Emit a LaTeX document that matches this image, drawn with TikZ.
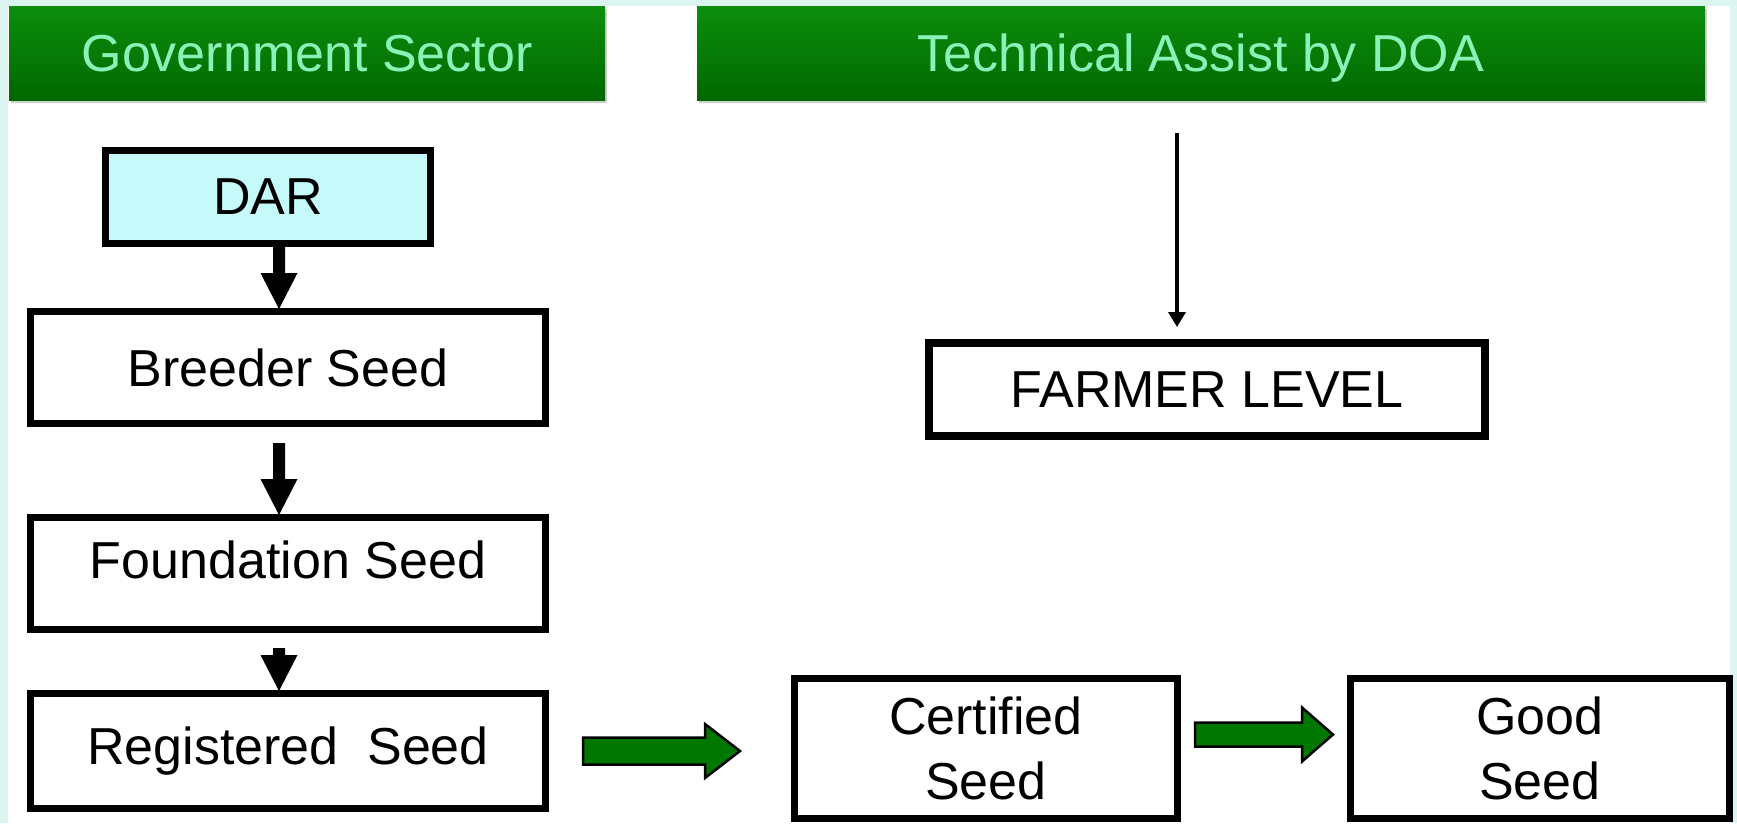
\documentclass[tikz,border=0pt]{standalone}
\usepackage{fontspec}
\setmainfont{Liberation Sans}
\usetikzlibrary{calc,arrows.meta,shadows}

\definecolor{edgecyan}{HTML}{DDF5F1}
\definecolor{hdrtop}{HTML}{0C8E0C}
\definecolor{hdrbot}{HTML}{006800}
\definecolor{hdrtext}{HTML}{8AF2B8}
\definecolor{darfill}{HTML}{C6F9F9}
\definecolor{blockgreen}{HTML}{007800}

\tikzset{
  hdr/.style={draw=none, top color=hdrtop, bottom color=hdrbot, text=hdrtext,
    inner sep=0pt, text height=37pt, text depth=1pt,
    font=\fontsize{52}{62}\selectfont,
    drop shadow={shadow xshift=1.5pt, shadow yshift=-2.5pt, opacity=0.3, fill=black!60}},
  stage/.style={draw=black, line width=7pt, fill=white, inner sep=0pt,
    outer sep=3.5pt, align=center, font=\fontsize{52}{65}\selectfont},
  blockhead/.style={fill=black},
  greenblock/.style={fill=blockgreen, draw=black, line width=2.5pt, line join=miter},
  thinarrow/.style={draw=black, line width=3.5pt,
    -{Triangle[width=17pt, length=15pt]}},
}

% downward block arrow: #1 shaft start, #2 tip
\newcommand\blkdown[2]{%
  \fill[blockhead] ($(#1)+(-6,0)$) -- ($(#2)+(-6,-35)$) -- ($(#2)+(-18.5,-35)$)
    -- ($(#2)+(0,1)$) -- ($(#2)+(18.5,-35)$) -- ($(#2)+(6,-35)$)
    -- ($(#1)+(6,0)$) -- cycle;}

% rightward block arrow: #1 start, #2 tip, #3 shaft half height, #4 head half height, #5 head length
\newcommand\blkright[5]{%
  \filldraw[greenblock] ($(#1)+(0,-#3)$) -- ($(#2)+(-#5,-#3)$) -- ($(#2)+(-#5,-#4)$)
    -- (#2) -- ($(#2)+(-#5,#4)$) -- ($(#2)+(-#5,#3)$) -- ($(#1)+(0,#3)$) -- cycle;}

\begin{document}
\begin{tikzpicture}[x=1pt, y=-1pt]
  \useasboundingbox (0,0) rectangle (1737,823);
  \fill[edgecyan] (0,0) rectangle (1737,823);
  \fill[white] (8,6) rectangle (1730,823);

  % column headers
  \node[hdr, minimum width=596pt, minimum height=94pt] (hdr1) at (307,53) {Government Sector};
  \node[hdr, minimum width=1008pt, minimum height=94pt] (hdr2) at (1201,53) {Technical Assist by DOA};

  % government chain
  \node[stage, fill=darfill, minimum width=325pt, minimum height=93pt] (dar) at (268,197) {DAR};
  \node[stage, minimum width=515pt, minimum height=112pt] (breeder) at (288,367.5) {Breeder Seed};
  \node[stage, minimum width=515pt, minimum height=112pt, text height=38pt, text depth=29pt] (foundation) at (288,573.5) {Foundation Seed};
  \node[stage, minimum width=515pt, minimum height=115pt] (registered) at (288,751) {Registered\ \ Seed};

  % farmer side
  \node[stage, line width=8pt, outer sep=4pt, minimum width=556pt, minimum height=93pt] (farmer) at (1207,389.5) {FARMER LEVEL};
  \node[stage, minimum width=383pt, minimum height=140pt] (certified) at (986,748.5) {Certified\\Seed};
  \node[stage, minimum width=379pt, minimum height=140pt] (good) at (1540,748.5) {Good\\Seed};

  % vertical spine of the government chain
  \coordinate (spine) at (279,0);
  \coordinate (a1s) at (dar.south -| spine);
  \coordinate (a1e) at (breeder.north -| spine);
  \coordinate (a2s) at ($(breeder.south -| spine)+(0,16)$);
  \coordinate (a2e) at (foundation.north -| spine);
  \coordinate (a3s) at ($(foundation.south -| spine)+(0,15)$);
  \coordinate (a3e) at (registered.north -| spine);
  \blkdown{a1s}{a1e}
  \blkdown{a2s}{a2e}
  \blkdown{a3s}{a3e}

  % technical assistance down to farmers
  \coordinate (assist) at ($(hdr2.south)+(-24,33)$);
  \draw[thinarrow] (assist) -- ($(farmer.north -| assist)+(0,-12)$);

  % flow towards certified and good seed
  \coordinate (g1s) at ($(registered.east)+(34,0)$);
  \coordinate (g1e) at ($(certified.west |- registered.east)+(-51,0)$);
  \blkright{g1s}{g1e}{13.5}{27}{35}
  \coordinate (g2s) at ($(certified.east)+(14,-14)$);
  \coordinate (g2e) at ($(good.west |- g2s)+(-14,0)$);
  \blkright{g2s}{g2e}{12}{27}{31}
\end{tikzpicture}
\end{document}
